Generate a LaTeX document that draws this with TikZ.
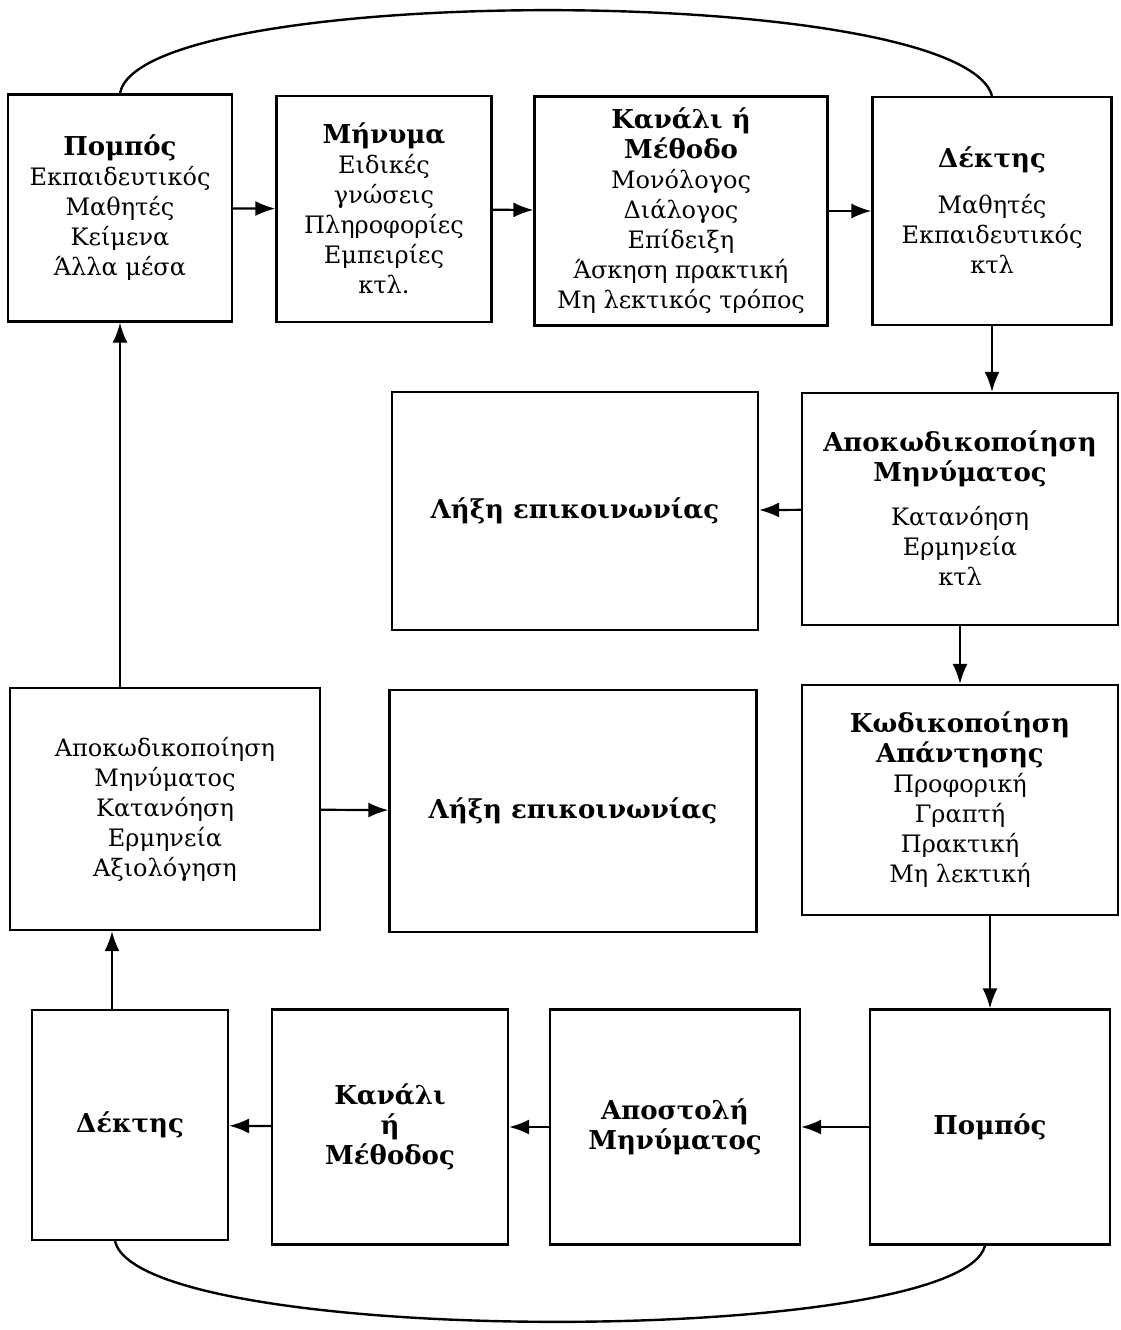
\documentclass[tikz,border=0pt]{standalone}
\usepackage{fontspec}
\setmainfont{DejaVu Serif}
\usetikzlibrary{arrows.meta}

\newcommand{\hd}[1]{{\fontsize{26}{31}\selectfont\bfseries #1}}

\tikzset{
  box/.style={draw, line width=2.2pt, align=center, inner sep=3pt,
    font=\fontsize{24}{30}\selectfont},
  arr/.style={-{Latex[length=20pt,width=15pt]}, line width=2.2pt},
  loop/.style={line width=2.4pt},
}

\begin{document}
\begin{tikzpicture}[x=1pt, y=-1pt]
\useasboundingbox (0,0) rectangle (1120,1330);

% first round: teacher -> students
\node[box, minimum width=224, minimum height=227] (pompA) at (120,208)
  {\hd{Πομπός}\\Εκπαιδευτικός\\Μαθητές\\Κείμενα\\Άλλα μέσα};
\node[box, minimum width=215, minimum height=226] (minyma) at (384,209)
  {\hd{Μήνυμα}\\Ειδικές\\γνώσεις\\Πληροφορίες\\Εμπειρίες\\κτλ.};
\node[box, minimum width=293, minimum height=229] (kanaliA) at (681,211)
  {\hd{Κανάλι ή}\\\hd{Μέθοδο}\\Μονόλογος\\Διάλογος\\Επίδειξη\\Άσκηση πρακτική\\Μη λεκτικός τρόπος};
\node[box, minimum width=239, minimum height=228] (dektisA) at (992,211)
  {\hd{Δέκτης}\\[16pt]Μαθητές\\Εκπαιδευτικός\\κτλ};

\node[box, minimum width=316, minimum height=232] (apokodA) at (960,509)
  {\hd{Αποκωδικοποίηση}\\\hd{Μηνύματος}\\[14pt]Κατανόηση\\Ερμηνεία\\κτλ};
\node[box, minimum width=366, minimum height=238] (lixiA) at (575,511)
  {\hd{Λήξη επικοινωνίας}};

\node[box, minimum width=316, minimum height=230] (kodik) at (960,800)
  {\hd{Κωδικοποίηση}\\\hd{Απάντησης}\\Προφορική\\Γραπτή\\Πρακτική\\Μη λεκτική};
\node[box, minimum width=367, minimum height=242] (lixiB) at (573,811)
  {\hd{Λήξη επικοινωνίας}};
\node[box, minimum width=310, minimum height=242] (apokodB) at (165,809)
  {Αποκωδικοποίηση\\Μηνύματος\\Κατανόηση\\Ερμηνεία\\Αξιολόγηση};

% second round: the answer goes back
\node[box, minimum width=240, minimum height=235] (pompB) at (990,1127)
  {\hd{Πομπός}};
\node[box, minimum width=250, minimum height=235] (apostoli) at (675,1127)
  {\hd{Αποστολή}\\\hd{Μηνύματος}};
\node[box, minimum width=236, minimum height=235] (kanaliB) at (390,1127)
  {\hd{Κανάλι}\\\hd{ή}\\\hd{Μέθοδος}};
\node[box, minimum width=196, minimum height=230] (dektisB) at (130,1125)
  {\hd{Δέκτης}};

\draw[arr] (pompA) -- (minyma);
\draw[arr] (minyma) -- (kanaliA);
\draw[arr] (kanaliA) -- (dektisA);
\draw[arr] (dektisA.south) -- (dektisA.south |- apokodA.north);
\draw[arr] (apokodA) -- (lixiA);
\draw[arr] (apokodA) -- (kodik);
\draw[arr] (kodik.south -| pompB) -- (pompB.north);
\draw[arr] (pompB) -- (apostoli);
\draw[arr] (apostoli) -- (kanaliB);
\draw[arr] (kanaliB) -- (dektisB);
\draw[arr] ([xshift=-18pt]dektisB.north) -- ([xshift=-18pt]dektisB.north |- apokodB.south);
\draw[arr] (apokodB) -- (lixiB);
\draw[arr] (apokodB.north -| pompA) -- (pompA.south);

\draw[loop] (pompA.north) .. controls (140,-18) and (960,-18) .. (dektisA.north);
\draw[loop] ([xshift=-15pt]dektisB.south) .. controls (140,1348) and (960,1348) .. ([xshift=-5pt]pompB.south);
\end{tikzpicture}
\end{document}
